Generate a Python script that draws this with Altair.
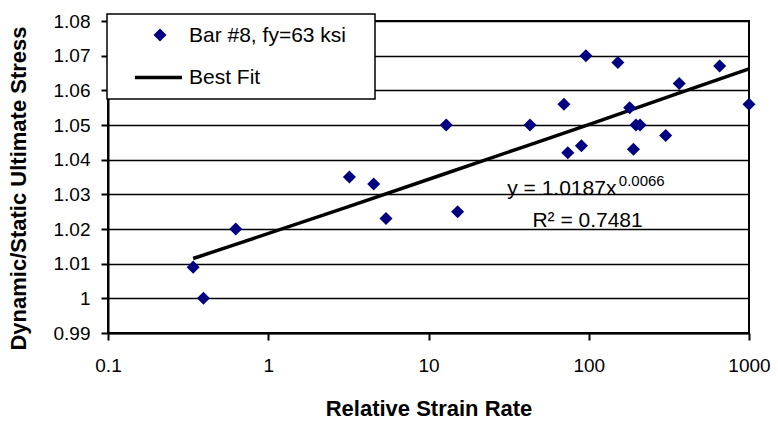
import altair as alt
import pandas as pd

# Measured data (Bar #8, fy=63 ksi)
strain_rate = [0.34, 0.394, 0.627, 3.21, 4.55, 5.43, 12.9, 15.2, 43, 70, 74,
               90, 96, 152, 180, 190, 197, 209, 302, 367, 656, 1000]
stress_ratio = [1.009, 1.000, 1.020, 1.035, 1.033, 1.023, 1.050, 1.025, 1.050,
                1.056, 1.042, 1.044, 1.070, 1.068, 1.055, 1.043, 1.050, 1.050,
                1.047, 1.062, 1.067, 1.056]

# Best fit curve
fit_x = [0.34, 0.62, 3.1, 12.4, 41, 100, 350, 1000]
fit_y = [1.0115, 1.0155, 1.0263, 1.0358, 1.0440, 1.0501, 1.0589, 1.0662]

y_ticks = [0.99, 1.00, 1.01, 1.02, 1.03, 1.04, 1.05, 1.06, 1.07, 1.08]
x_ticks = [0.1, 1, 10, 100, 1000]

legend_labels = ["Bar #8, fy=63 ksi", "Best Fit"]
eq_text = "y = 1.0187x"
eq_exp = "0.0066"
r2_text = "R\u00b2 = 0.7481"

FONT = "Liberation Sans"
NAVY = "#000080"

pts = pd.DataFrame({"x": strain_rate, "y": stress_ratio})
fit = pd.DataFrame({"x": fit_x, "y": fit_y})

xscale = alt.Scale(type="log", domain=[0.1, 1000], nice=False)
yscale = alt.Scale(domain=[0.99, 1.08], nice=False, zero=False)

xaxis = alt.Axis(values=x_ticks, grid=False,
                 labelExpr="format(datum.value, '~g')",
                 title="Relative Strain Rate", titleY=75,
                 titleBaseline="middle", labelPadding=16,
                 labelOverlap=False, labelFlush=False, labelBound=False)
yaxis = alt.Axis(values=y_ticks, grid=True,
                 labelExpr="format(datum.value, '.2~f')",
                 title="Dynamic/Static Ultimate Stress",
                 titleAngle=270, titleX=-90, titleY=167,
                 titleAlign="center", titleBaseline="middle", labelPadding=11,
                 labelOverlap=False, labelFlush=False, labelBound=False)

X = alt.X("x:Q", scale=xscale, axis=xaxis)
Y = alt.Y("y:Q", scale=yscale, axis=yaxis)

points = alt.Chart(pts).mark_point(shape="diamond", filled=True, size=170,
                                   color=NAVY, opacity=1).encode(x=X, y=Y)

line = alt.Chart(fit).mark_line(color="black", strokeWidth=3.5).encode(x=X, y=Y)

one = pd.DataFrame({"a": [0]})
leg_box = alt.Chart(one).mark_rect(fill="white", stroke="black",
                                   strokeWidth=1.5).encode(
    x=alt.value(-1), x2=alt.value(267), y=alt.value(-7), y2=alt.value(78))
leg_pt = alt.Chart(one).mark_point(shape="diamond", filled=True, size=170,
                                   color=NAVY, opacity=1).encode(
    x=alt.value(52), y=alt.value(14))
leg_line = alt.Chart(one).mark_rule(color="black", strokeWidth=3.5).encode(
    x=alt.value(27), x2=alt.value(74), y=alt.value(56.5))
leg_t1 = alt.Chart(one).mark_text(align="left", baseline="alphabetic",
                                  font=FONT, fontSize=21, color="black").encode(
    x=alt.value(81), y=alt.value(21), text=alt.value(legend_labels[0]))
leg_t2 = alt.Chart(one).mark_text(align="left", baseline="alphabetic",
                                  font=FONT, fontSize=21, color="black").encode(
    x=alt.value(81), y=alt.value(63), text=alt.value(legend_labels[1]))

ann = pd.DataFrame({
    "x": [31.0, 154.0, 44.5],
    "y": [1.0298, 1.0324, 1.0205],
    "t": [eq_text, eq_exp, r2_text],
    "s": [21, 15, 21],
})
annotations = alt.Chart(ann).mark_text(align="left", baseline="alphabetic",
                                       font=FONT, color="black").encode(
    x=X, y=Y,
    text="t:N",
    size=alt.Size("s:Q", scale=None, legend=None),
)

chart = alt.layer(line, points, annotations, leg_box, leg_pt, leg_line,
                  leg_t1, leg_t2).properties(
    width=641, height=312,
    autosize=alt.AutoSizeParams(type="none"),
    padding={"left": 108, "top": 21, "right": 29, "bottom": 92},
    background="white",
).configure_view(
    stroke="black", strokeWidth=2
).configure_axis(
    labelFont=FONT, labelFontSize=19, labelColor="black",
    titleFont=FONT, titleFontSize=22, titleFontWeight="bold",
    titleColor="black",
    domainColor="black", domainWidth=2, tickColor="black", tickWidth=2,
    tickSize=7, gridColor="black", gridWidth=1.6, gridOpacity=1,
)

chart.save("out.html", embed_options={"renderer": "svg", "actions": False})
